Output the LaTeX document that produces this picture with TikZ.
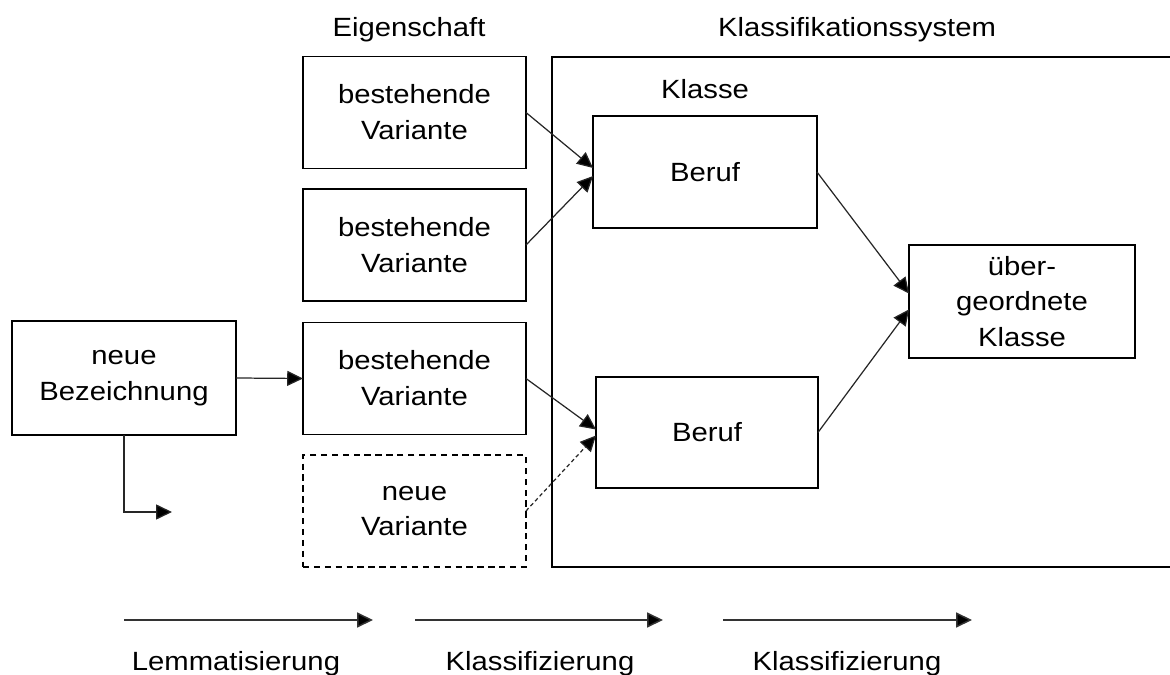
\documentclass[tikz,border=0pt]{standalone}
\usepackage{fontspec}
\setmainfont{Liberation Sans}[FakeStretch=1.11]
\usetikzlibrary{arrows.meta,calc}
\begin{document}
\begin{tikzpicture}[x=0.02cm,y=-0.02cm,
  txt/.style={font=\fontsize{15}{20.4}\selectfont},
  box/.style={txt, draw, line width=1.1pt, minimum width=4.46cm, minimum height=2.24cm, align=center, inner sep=0pt, outer sep=0pt},
  dbox/.style={box, dash pattern=on 3.6pt off 2.6pt},
  conn/.style={line width=0.7pt, draw=black!85, -{Triangle[length=9pt,width=8.5pt,fill=black]}},
  dconn/.style={conn, dash pattern=on 2.2pt off 1.6pt},
  flow/.style={line width=0.85pt, draw=black!80, -{Triangle[length=9pt,width=8.5pt,fill=black]}},
  lab/.style={txt, anchor=base, inner sep=0pt}]
\useasboundingbox (0,0) rectangle (1170,675);

% labels
\node[lab] (leig) at (409,37) {Eigenschaft};
\node[lab] (lks) at (857,37) {Klassifikationssystem};
\node[lab] (lkl) at (705,99) {Klasse};

% system frame (open at right)
\coordinate (fr1) at (1172,57);
\coordinate (fr2) at (552,57);
\coordinate (fr3) at (552,567);
\coordinate (fr4) at (1172,567);
\draw[line width=1.1pt] (fr1) -- (fr2) -- (fr3) -- (fr4);

% boxes
\node[box, minimum width=4.48cm, minimum height=2.28cm] (nb) at (124,378) {neue\\Bezeichnung};
\node[box] (v1) at (414.5,112.5) {bestehende\\Variante};
\node[box] (v2) at (414.5,245) {bestehende\\Variante};
\node[box] (v3) at (414.5,378.5) {bestehende\\Variante};
\node[dbox] (v4) at (414.5,511) {neue\\Variante};
\node[box, minimum width=4.48cm] (b1) at (705,172) {Beruf};
\node[box, minimum width=4.44cm, minimum height=2.22cm] (b2) at (707,432.5) {Beruf};
\node[box, minimum width=4.52cm, minimum height=2.26cm] (ue) at (1022,301.5) {über-\\geordnete\\Klasse};

% connectors
\draw[conn] (nb.east) -- (v3.west);
\coordinate (bend) at (172,512);
\draw[conn] (nb.south) |- (bend);
\draw[conn] (v1.east) -- ([yshift=2.3pt]b1.west);
\draw[conn] (v2.east) -- ([yshift=-2.3pt]b1.west);
\draw[conn] (v3.east) -- ([yshift=1.7pt]b2.west);
\draw[dconn] (v4.east) -- ([yshift=-1.7pt]b2.west);
\draw[conn] (b1.east) -- ([yshift=4.5pt]ue.west);
\draw[conn] (b2.east) -- ([yshift=-4.5pt]ue.west);

% process arrows
\coordinate (p1s) at (124,620); \coordinate (p1e) at (373,620);
\coordinate (p2s) at (415,620); \coordinate (p2e) at (663,620);
\coordinate (p3s) at (723,620); \coordinate (p3e) at (972,620);
\draw[flow] (p1s) -- (p1e);
\draw[flow] (p2s) -- (p2e);
\draw[flow] (p3s) -- (p3e);
\node[lab] (l1) at (236,670) {Lemmatisierung};
\node[lab] (l2) at (540,670) {Klassifizierung};
\node[lab] (l3) at (847,670) {Klassifizierung};
\end{tikzpicture}
\end{document}
